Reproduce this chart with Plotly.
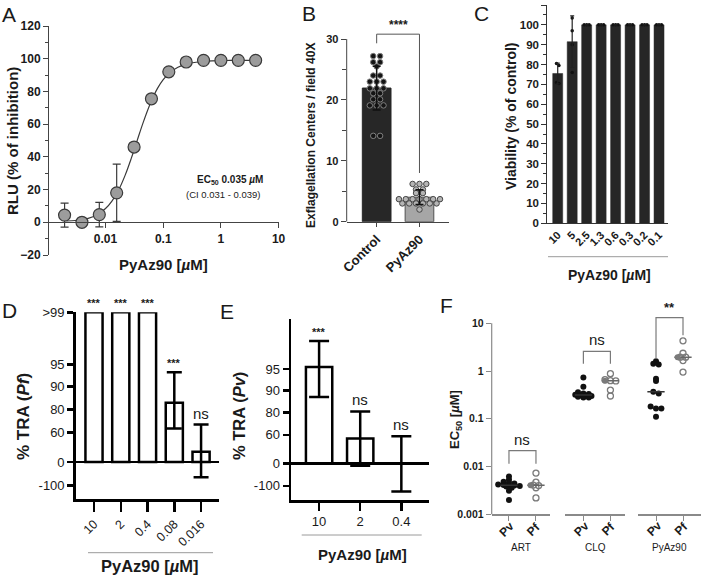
import numpy as np
import plotly.graph_objects as go

W, H = 701, 578
FONT = "Liberation Sans, Arial, Helvetica, sans-serif"
INK = "#1a1a1a"

# ---------------- Panel A : dose response ----------------
a_conc = [0.00195, 0.0039, 0.0078, 0.0156, 0.03125, 0.0625, 0.125, 0.25, 0.5, 1.0, 2.0, 4.0]
a_inhibition = [4.4, 0.0, 4.7, 18.0, 46.0, 75.5, 92.0, 98.0, 99.0, 99.0, 99.0, 99.0]
a_sd = [7.3, 0.0, 7.5, 17.5, 0, 0, 0, 0, 0, 0, 0, 0]
a_fit_conc = [0.0021, 0.003, 0.004, 0.005, 0.007, 0.01, 0.013, 0.017, 0.022, 0.028, 0.035,
              0.045, 0.06, 0.08, 0.1, 0.13, 0.18, 0.25, 0.4, 0.7, 1.2, 2.0, 4.0]
a_fit_inhibition = [0.8, 1.1, 1.7, 2.4, 4.4, 8.4, 13.1, 20.0, 29.0, 39.2, 49.5,
                    61.1, 72.8, 82.0, 87.2, 91.5, 94.8, 96.7, 98.0, 98.7, 98.9, 99.0, 99.0]
a_xticks = [0.01, 0.1, 1, 10]
a_xtick_labels = ["0.01", "0.1", "1", "10"]
a_yticks = [-20, 0, 20, 40, 60, 80, 100, 120]

# ---------------- Panel B : exflagellation ----------------
b_groups = ["Control", "PyAz90"]
b_control = [27.2, 27.2, 26.2, 26.2, 25.5, 24.0, 24.0, 23.0, 23.0, 23.0, 21.9, 21.9, 21.9,
             21.1, 21.1, 20.1, 20.1, 19.1, 19.1, 19.1, 14.1, 14.1]
b_pyaz90 = [6.2, 6.2, 6.2, 5.3, 5.3, 4.7, 4.7, 3.7, 3.7, 3.7, 3.7, 3.7, 3.7, 3.7,
            3.0, 3.0, 3.0, 3.0, 3.0, 3.0, 2.0]
b_sig = "****"
b_bracket = [30.8, 29.3, 8.0]   # top, left leg end, right leg end

# ---------------- Panel C : viability ----------------
c_labels = ["10", "5", "2.5", "1.3", "0.6", "0.3", "0.2", "0.1"]
c_viability = [75.5, 91.5, 100, 100, 100, 100, 100, 100]
c_sd = [5.2, 13.0, 0, 0, 0, 0, 0, 0]
c_reps = [[80.5, 79.5, 71.0, 70.5], [103.5, 97.0, 90.0, 76.0],
          [100, 100, 100], [100, 100, 100], [100, 100, 100],
          [100, 100, 100], [100, 100, 100], [100, 100, 100]]

# ---------------- Panels D / E : %TRA (segmented axis) ----------------
tra_tick_values = [-100, 0, 60, 80, 90, 95, 100]
tra_tick_labels = ["-100", "0", "60", "80", "90", "95", ">99"]
d_labels = ["10", "2", "0.4", "0.08", "0.016"]
d_tra = [100, 100, 100, 82.9, 20.6]
d_err_hi = [None, None, None, 93.2, 66.8]
d_err_lo = [None, None, None, 63.3, -65.7]
d_sig = ["***", "***", "***", "***", "ns"]

e_labels = ["10", "2", "0.4"]
e_tra = [95.2, 52.0, 0.0]
e_err_hi = [97.8, 80.5, 57.0]
e_err_lo = [87.1, -10.6, -125.0]
e_sig = ["***", "ns", "ns"]

# ---------------- Panel F : EC50 ----------------
f_drugs = ["ART", "CLQ", "PyAz90"]
f_species = ["Pv", "Pf"]
f_art_pv = [0.0062, 0.0053, 0.0048, 0.0046, 0.0044, 0.0042, 0.0041, 0.0040, 0.0040,
            0.0039, 0.0038, 0.0036, 0.0031, 0.0020]
f_art_pf = [0.0073, 0.0047, 0.0041, 0.0040, 0.0036, 0.0022]
f_clq_pv = [0.73, 0.47, 0.36, 0.34, 0.33, 0.32, 0.31, 0.30, 0.30, 0.29, 0.28, 0.28]
f_clq_pf = [0.88, 0.66, 0.63, 0.62, 0.40, 0.30]
f_pyaz_pv = [1.6, 1.42, 1.37, 0.69, 0.62, 0.37, 0.34, 0.18, 0.165, 0.165, 0.11]
f_pyaz_pf = [4.3, 2.36, 1.95, 1.95, 1.66, 0.95]
f_sig = ["ns", "ns", "**"]
f_brackets = [(0.0216, 0.0114, 0.0114), (2.59, 1.43, 1.43), (13.1, 1.82, 5.6)]
f_yticks = [0.001, 0.01, 0.1, 1, 10]
f_ytick_labels = ["0.001", "0.01", "0.1", "1", "10"]

# ---------------- helpers ----------------
def dx(x0, x1):
    return [x0 / W, x1 / W]

def dy(ybot, ytop):
    return [1 - ybot / H, 1 - ytop / H]

def px(x):
    return x / W

def py(y):
    return 1 - y / H

TRA_KNOTS = [-200, -100, 0, 60, 80, 90, 95, 100]
TRA_POS = [-2.06, -1.03, 0, 1.31, 2.33, 3.33, 4.32, 6.62]

def tra(v):
    return float(np.interp(v, TRA_KNOTS, TRA_POS))

def swarm(vals, log=False, tol=0.01, step=0.15):
    v = np.log10(vals) if log else np.asarray(vals, float)
    order = np.argsort(-v, kind="stable")
    offs = np.zeros(len(v))
    rows = []
    for i in order:
        if rows and abs(v[rows[-1][0]] - v[i]) <= tol:
            rows[-1].append(i)
        else:
            rows.append([i])
    for r in rows:
        n = len(r)
        for k, i in enumerate(r):
            offs[i] = (k - (n - 1) / 2) * step
    return offs

fig = go.Figure()
annotations = []
shapes = []

def ann(text, x, y, size, angle=0, color=INK, **kw):
    d = dict(text=text, x=px(x), y=py(y), xref="paper", yref="paper", showarrow=False,
             textangle=angle, xanchor="center", yanchor="middle",
             font=dict(family=FONT, size=size, color=color))
    d.update(kw)
    annotations.append(d)

def hline(x0, x1, y, color="#9a9a9a", width=1):
    shapes.append(dict(type="line", xref="paper", yref="paper", x0=px(x0), x1=px(x1),
                       y0=py(y), y1=py(y), line=dict(color=color, width=width)))

# ================= A =================
fig.add_trace(go.Scatter(x=a_fit_conc, y=a_fit_inhibition, mode="lines",
                         line=dict(color="#3a3a3a", width=1.2, shape="spline"),
                         xaxis="x", yaxis="y", hoverinfo="skip"))
fig.add_trace(go.Scatter(x=a_conc, y=a_inhibition, mode="markers",
                         marker=dict(size=12, color="#9c9c9c", line=dict(color="#3a3a3a", width=1.2)),
                         error_y=dict(type="data", array=a_sd, color="#3a3a3a", thickness=1.2, width=4),
                         xaxis="x", yaxis="y"))
ann("<b>EC<sub>50</sub> 0.035 <i>µ</i>M</b>", 265, 180, 10, xanchor="right")
ann("(CI 0.031 - 0.039)", 262, 194, 9.5, xanchor="right")

# ================= B =================
b_vals = [b_control, b_pyaz90]
b_means = [float(np.mean(v)) for v in b_vals]
b_sds = [float(np.std(v, ddof=1)) for v in b_vals]
fig.add_trace(go.Bar(x=[0, 1], y=b_means, width=0.67,
                     marker=dict(color=["#272727", "#a6a6a6"],
                                 line=dict(color=["#272727", "#505050"], width=1)),
                     xaxis="x2", yaxis="y2"))
b_dot_fill = ["#141414", "#b4b4b4"]
b_dot_line = ["#808080", "#454545"]
for i, v in enumerate(b_vals):
    offs = swarm(v, tol=0.01, step=0.16)
    fig.add_trace(go.Scatter(x=i + offs, y=v, mode="markers",
                             marker=dict(size=5.5, color=b_dot_fill[i], line=dict(color=b_dot_line[i], width=1)),
                             xaxis="x2", yaxis="y2"))
fig.add_trace(go.Scatter(x=[0, 1], y=b_means, mode="markers", marker=dict(size=1, color="rgba(0,0,0,0)"),
                         error_y=dict(type="data", array=b_sds, color="#111111", thickness=1.5, width=4),
                         xaxis="x2", yaxis="y2"))
fig.add_trace(go.Scatter(x=[0, 0, 1, 1], y=[b_bracket[1], b_bracket[0], b_bracket[0], b_bracket[2]],
                         mode="lines", line=dict(color="#555555", width=1), xaxis="x2", yaxis="y2"))
annotations.append(dict(text="<b>" + b_sig + "</b>", x=0.5, xref="x2", y=b_bracket[0], yref="y2",
                        yanchor="bottom", showarrow=False, yshift=0,
                        font=dict(family=FONT, size=12, color=INK)))
shapes.append(dict(type="line", xref="x2 domain", x0=0, x1=0, yref="y2", y0=0, y1=30,
                   line=dict(color="#444444", width=1)))

# ================= C =================
fig.add_trace(go.Bar(x=list(range(len(c_labels))), y=c_viability, width=0.69,
                     marker=dict(color="#262626", line=dict(color="#262626", width=0.5)),
                     xaxis="x3", yaxis="y3"))
cx, cy = [], []
for i, reps in enumerate(c_reps):
    offs = swarm(reps, tol=2.5, step=0.17)
    cx += list(i + offs)
    cy += list(reps)
fig.add_trace(go.Scatter(x=cx, y=cy, mode="markers", marker=dict(size=3.5, color="#111111"),
                         cliponaxis=False, xaxis="x3", yaxis="y3"))
fig.add_trace(go.Scatter(x=list(range(len(c_labels))), y=c_viability, mode="markers",
                         marker=dict(size=1, color="rgba(0,0,0,0)"),
                         error_y=dict(type="data", array=c_sd, color="#222222", thickness=1.2, width=2),
                         xaxis="x3", yaxis="y3"))

# ================= D / E =================
def tra_panel(labels, vals, hi, lo, sig, xa, ya, capw, sigfont):
    disp = [tra(v) for v in vals]
    fig.add_trace(go.Bar(x=list(range(len(labels))), y=disp, width=0.64,
                         marker=dict(color="white", line=dict(color="black", width=2.5)),
                         cliponaxis=False, xaxis=xa, yaxis=ya))
    ex, ey, ep, em = [], [], [], []
    for i, (v, h, l) in enumerate(zip(vals, hi, lo)):
        if h is None:
            continue
        ex.append(i)
        ey.append(tra(v))
        ep.append(tra(h) - tra(v))
        em.append(tra(v) - tra(l))
    fig.add_trace(go.Scatter(x=ex, y=ey, mode="markers", marker=dict(size=1, color="rgba(0,0,0,0)"),
                             error_y=dict(type="data", array=ep, arrayminus=em, symmetric=False,
                                          color="black", thickness=2.5, width=capw),
                             cliponaxis=False, xaxis=xa, yaxis=ya))
    for i, s in enumerate(sig):
        top = max(vals[i], hi[i] if hi[i] is not None else vals[i])
        bold = s != "ns"
        annotations.append(dict(text=("<b>%s</b>" % s) if bold else s, x=i, xref=xa, y=tra(top), yref=ya,
                                yanchor="bottom", showarrow=False, yshift=1,
                                font=dict(family=FONT, size=sigfont if bold else 15, color=INK)))

tra_panel(d_labels, d_tra, d_err_hi, d_err_lo, d_sig, "x4", "y4", 7.5, 11)
tra_panel(e_labels, e_tra, e_err_hi, e_err_lo, e_sig, "x5", "y5", 10, 11)

# ================= F =================
f_pv = [f_art_pv, f_clq_pv, f_pyaz_pv]
f_pf = [f_art_pf, f_clq_pf, f_pyaz_pf]
f_xaxes = ["x6", "x7", "x8"]
f_dom = [(491.7, 550.0, [-0.64, 1.52]), (565.0, 625.0, [-0.68, 1.54]), (638.3, 701.0, [-0.656, 1.667])]
for g, xa in enumerate(f_xaxes):
    pv, pf = f_pv[g], f_pf[g]
    fig.add_trace(go.Scatter(x=0 + swarm(pv, log=True, tol=0.04, step=0.2), y=pv, mode="markers",
                             marker=dict(size=6, color="#111111"), cliponaxis=False, xaxis=xa, yaxis="y6"))
    fig.add_trace(go.Scatter(x=1 + swarm(pf, log=True, tol=0.04, step=0.2), y=pf, mode="markers",
                             marker=dict(size=6, symbol="circle-open", color="#7a7a7a", line=dict(width=1.3)),
                             cliponaxis=False, xaxis=xa, yaxis="y6"))
    mpv, mpf = float(np.median(pv)), float(np.median(pf))
    fig.add_trace(go.Scatter(x=[-0.32, 0.32], y=[mpv, mpv], mode="lines",
                             line=dict(color="#333333", width=1.5), xaxis=xa, yaxis="y6"))
    fig.add_trace(go.Scatter(x=[0.68, 1.32], y=[mpf, mpf], mode="lines",
                             line=dict(color="#666666", width=1.5), xaxis=xa, yaxis="y6"))
    fig.add_trace(go.Scatter(x=[0.8], y=[mpf], mode="markers",
                             marker=dict(size=6, color="#7a7a7a"), xaxis=xa, yaxis="y6"))
    top, lpv, lpf = f_brackets[g]
    fig.add_trace(go.Scatter(x=[0, 0, 1, 1], y=[lpv, top, top, lpf], mode="lines",
                             line=dict(color="#7a7a7a", width=1.2), xaxis=xa, yaxis="y6"))
    bold = f_sig[g] != "ns"
    annotations.append(dict(text=("<b>%s</b>" % f_sig[g]) if bold else f_sig[g], x=0.5, xref=xa,
                            y=float(np.log10(top)), yref="y6", yanchor="bottom", showarrow=False,
                            yshift=1, font=dict(family=FONT, size=13 if bold else 15, color=INK)))
    # rotated species labels under the ticks
    for k, sp in enumerate(f_species):
        annotations.append(dict(text="<b>%s</b>" % sp, x=k, xref=xa, y=py(529), yref="paper",
                                xanchor="center", yanchor="middle", xshift=-2, textangle=-45,
                                showarrow=False, font=dict(family=FONT, size=12, color=INK)))
    annotations.append(dict(text=f_drugs[g], x=0.5, xref=xa + " domain", y=py(547), yref="paper",
                            xanchor="center", yanchor="middle",
                            showarrow=False, font=dict(family=FONT, size=10, color=INK)))
F_RANGE = [-3, 1.15]
shapes.append(dict(type="line", xref="x6 domain", x0=0, x1=0, yref="y6 domain", y0=0,
                   y1=(1 - F_RANGE[0]) / (F_RANGE[1] - F_RANGE[0]), line=dict(color="#8a8a8a", width=1.2)))

# ================= titles / decorations =================
for letter, x, y in [("A", 9, 14), ("B", 309, 13), ("C", 481, 13), ("D", 9, 310), ("E", 227, 311), ("F", 446, 305)]:
    ann(letter, x, y, 21)

ann("<b>RLU (% of inhibition)</b>", 13, 141, 15, angle=-90)
ann("<b>PyAz90 [<i>µ</i>M]</b>", 163, 264, 15)
ann("<b>Exflagellation Centers / field 40X</b>", 311, 136, 12, angle=-90)
ann("<b>Viability (% of control)</b>", 511, 116, 14, angle=-90)
ann("<b>PyAz90 [<i>µ</i>M]</b>", 609, 275, 14)
hline(548, 668, 256.7)
ann("<b>% TRA (<i>Pf</i>)</b>", 23, 417, 17, angle=-90)
ann("<b>PyAz90 [<i>µ</i>M]</b>", 150, 566, 16.5)
hline(88, 213, 552.7)
ann("<b>% TRA (<i>Pv</i>)</b>", 239, 416, 16.5, angle=-90)
ann("<b>PyAz90 [<i>µ</i>M]</b>", 362, 554, 15)
hline(301.7, 421.7, 535)
ann("<b>EC<sub>50</sub> [<i>µ</i>M]</b>", 455, 420, 13, angle=-90)

# ================= axes =================
def ax(**kw):
    d = dict(showgrid=False, zeroline=False, fixedrange=True, ticks="outside", automargin=False,
             tickfont=dict(family=FONT, size=11, color=INK))
    d.update(kw)
    return d

bold = lambda s: dict(family=FONT, size=s, color=INK, weight="bold")
reg = lambda s: dict(family=FONT, size=s, color=INK)

layout_axes = dict(
    # A
    xaxis=ax(domain=dx(49, 278.6), type="log", range=[-2.98, 1.0], anchor="free", position=py(222.3),
             showline=True, linecolor="#444", linewidth=1, tickcolor="#444", ticklen=5,
             tickvals=a_xticks, ticktext=a_xtick_labels, tickfont=bold(12)),
    yaxis=ax(domain=dy(255, 26), range=[-20, 120], anchor="x", showline=True, linecolor="#444",
             tickcolor="#444", ticklen=5, tickvals=a_yticks, tickfont=bold(12),
             minor=dict(tickvals=list(range(-10, 120, 20)), ticks="outside", ticklen=3, tickcolor="#444")),
    # B
    xaxis2=ax(domain=dx(346.7, 449), range=[-0.7, 1.69], anchor="y2", showline=True, linecolor="#444",
              tickcolor="#444", ticklen=4, tickvals=[0, 1], ticktext=b_groups, tickangle=-45, tickfont=bold(13)),
    yaxis2=ax(domain=dy(221.7, 29.3), range=[0, 31.6], anchor="x2", showline=False, tickcolor="#444",
              ticklen=5, tickvals=[0, 10, 20, 30], tickfont=bold(11),
              minor=dict(tickvals=[5, 15, 25], ticks="outside", ticklen=4, tickcolor="#444")),
    # C
    xaxis3=ax(domain=dx(547.3, 668), range=[-0.72, 7.62], anchor="y3", showline=True, linecolor="#333",
              ticks="", tickvals=list(range(len(c_labels))), ticktext=c_labels, tickangle=-45, tickfont=bold(11)),
    yaxis3=ax(domain=dy(223.3, 5), range=[0, 110], anchor="x3", showline=True, linecolor="#333",
              tickcolor="#333", ticklen=5, tickvals=list(range(0, 111, 10)), tickfont=bold(11.5),
              minor=dict(tickvals=list(range(5, 110, 10)), ticks="outside", ticklen=3, tickcolor="#333")),
    # D
    xaxis4=ax(domain=dx(75.7, 219), range=[-0.684, 4.67], anchor="y4", showline=True, linecolor="black",
              linewidth=2.5, tickcolor="black", tickwidth=2.5, ticklen=10, tickvals=list(range(len(d_labels))),
              ticktext=d_labels, tickangle=-45, tickfont=reg(12.5)),
    yaxis4=ax(domain=dy(499.3, 312.3), range=[-1.65, 6.62], anchor="x4", showline=True, linecolor="black",
              linewidth=2.5, tickcolor="black", tickwidth=2.5, ticklen=6,
              tickvals=[tra(v) for v in tra_tick_values], ticktext=tra_tick_labels, tickfont=reg(13),
              zeroline=True, zerolinecolor="black", zerolinewidth=2.5),
    # E
    xaxis5=ax(domain=dx(291, 429.3), range=[-0.683, 2.68], anchor="y5", showline=True, linecolor="black",
              linewidth=2.5, tickcolor="black", tickwidth=2.5, ticklen=8, tickvals=list(range(len(e_labels))),
              ticktext=e_labels, tickangle=0, tickfont=reg(13)),
    yaxis5=ax(domain=dy(500, 319.3), range=[-1.68, 6.6], anchor="x5", showline=True, linecolor="black",
              linewidth=2.5, tickcolor="black", tickwidth=2.5, ticklen=6,
              tickvals=[tra(v) for v in tra_tick_values], ticktext=tra_tick_labels, tickfont=reg(13),
              zeroline=True, zerolinecolor="black", zerolinewidth=2.5),
    # F
    yaxis6=ax(domain=dy(514.3, 514.3 - 47.75 * (F_RANGE[1] - F_RANGE[0])), type="log", range=F_RANGE,
              anchor="x6", showline=False, tickcolor="#8a8a8a", ticklen=5, tickvals=f_yticks,
              ticktext=f_ytick_labels, tickfont=bold(10.5)),
)
for g, xa in enumerate(f_xaxes):
    x0, x1, rng = f_dom[g]
    layout_axes["xaxis" + xa[1:]] = ax(domain=dx(x0, x1), range=rng, anchor="y6", showline=True,
                                       linecolor="#8a8a8a", linewidth=1.2, tickcolor="#8a8a8a", ticklen=5,
                                       tickvals=[0, 1], showticklabels=False)

fig.update_layout(width=W, height=H, margin=dict(l=0, r=0, t=0, b=0, autoexpand=False), autosize=False,
                  plot_bgcolor="white", paper_bgcolor="white", showlegend=False,
                  font=dict(family=FONT, color=INK), annotations=annotations, shapes=shapes,
                  bargap=0, **layout_axes)

fig.write_html("out.html", config={"displayModeBar": False, "staticPlot": True},
               post_script="document.body.style.margin='0';document.body.style.overflow='hidden';")
